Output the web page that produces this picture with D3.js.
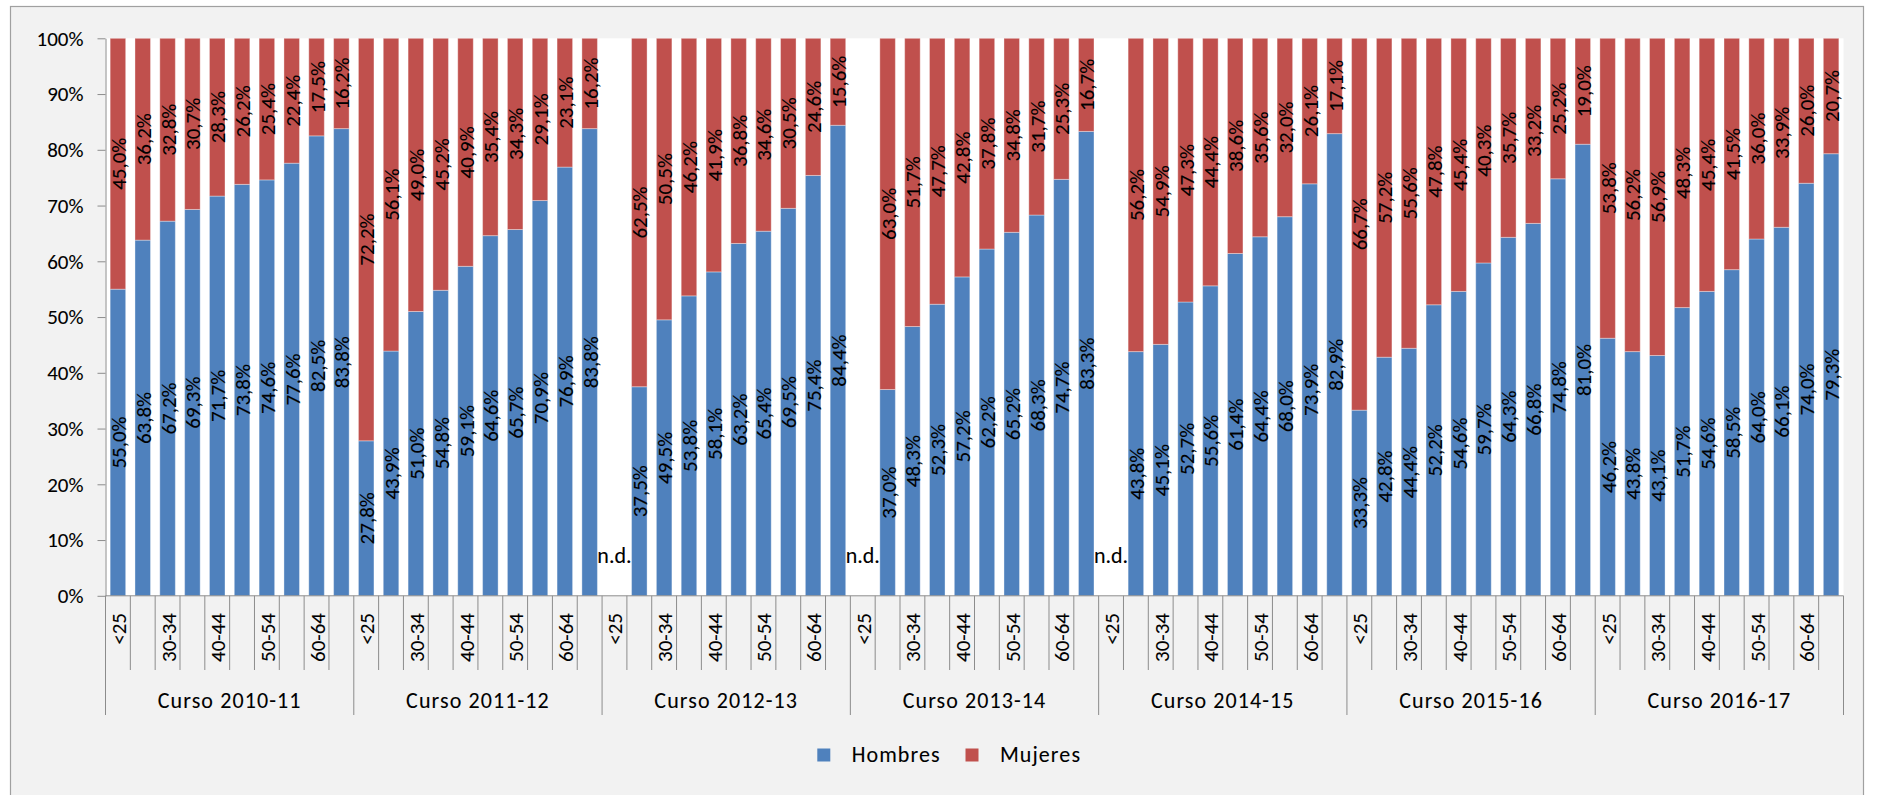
<!DOCTYPE html>
<html>
<head>
<meta charset="utf-8">
<script src="https://cdn.jsdelivr.net/npm/d3@7"></script>
<style>
  html, body { margin: 0; padding: 0; background: #ffffff; }
  svg { display: block; }
  text { font-family: Carlito, Lato, "Open Sans", sans-serif; fill: #000; stroke: #000; stroke-width: 0.08px; }
</style>
</head>
<body>
<div id="chart"></div>
<script>
// ---------------- data ----------------
const courses = ["Curso 2010-11", "Curso 2011-12", "Curso 2012-13", "Curso 2013-14",
                 "Curso 2014-15", "Curso 2015-16", "Curso 2016-17"];
const ageGroups = ["<25", "25-29", "30-34", "35-39", "40-44", "45-49", "50-54", "55-59", "60-64", ">=65"];
const ageTickLabels = ["<25", "", "30-34", "", "40-44", "", "50-54", "", "60-64", ""];
const seriesNames = ["Hombres", "Mujeres"];
const missingLabel = "n.d.";

// percentages per course (null = n.d.)
const hombres = [
  [55.0, 63.8, 67.2, 69.3, 71.7, 73.8, 74.6, 77.6, 82.5, 83.8],
  [27.8, 43.9, 51.0, 54.8, 59.1, 64.6, 65.7, 70.9, 76.9, 83.8],
  [null, 37.5, 49.5, 53.8, 58.1, 63.2, 65.4, 69.5, 75.4, 84.4],
  [null, 37.0, 48.3, 52.3, 57.2, 62.2, 65.2, 68.3, 74.7, 83.3],
  [null, 43.8, 45.1, 52.7, 55.6, 61.4, 64.4, 68.0, 73.9, 82.9],
  [33.3, 42.8, 44.4, 52.2, 54.6, 59.7, 64.3, 66.8, 74.8, 81.0],
  [46.2, 43.8, 43.1, 51.7, 54.6, 58.5, 64.0, 66.1, 74.0, 79.3]
];
const mujeres = [
  [45.0, 36.2, 32.8, 30.7, 28.3, 26.2, 25.4, 22.4, 17.5, 16.2],
  [72.2, 56.1, 49.0, 45.2, 40.9, 35.4, 34.3, 29.1, 23.1, 16.2],
  [null, 62.5, 50.5, 46.2, 41.9, 36.8, 34.6, 30.5, 24.6, 15.6],
  [null, 63.0, 51.7, 47.7, 42.8, 37.8, 34.8, 31.7, 25.3, 16.7],
  [null, 56.2, 54.9, 47.3, 44.4, 38.6, 35.6, 32.0, 26.1, 17.1],
  [66.7, 57.2, 55.6, 47.8, 45.4, 40.3, 35.7, 33.2, 25.2, 19.0],
  [53.8, 56.2, 56.9, 48.3, 45.4, 41.5, 36.0, 33.9, 26.0, 20.7]
];
const yTicks = [0, 0.1, 0.2, 0.3, 0.4, 0.5, 0.6, 0.7, 0.8, 0.9, 1.0];

// ---------------- layout ----------------
const W = 1878, H = 795;
const plot = { left: 105.5, right: 1843.5, top: 38.3, bottom: 595.8 };
const colors = { Hombres: "#4F81BD", Mujeres: "#C0504D" };
const axisColor = "#8c8c8c";
const fontSize = 21;
const wordFontSize = 22;
const wordSpacing = "1.1px";

const rows = [];
courses.forEach((c, ci) => {
  ageGroups.forEach((a, ai) => {
    rows.push({ key: c + "|" + a, course: c, age: a, ai,
                Hombres: hombres[ci][ai], Mujeres: mujeres[ci][ai] });
  });
});

const svg = d3.select("#chart").append("svg").attr("width", W).attr("height", H);

// chart area background + border
svg.append("rect").attr("x", 10.5).attr("y", 6.5).attr("width", 1853).attr("height", 800)
  .attr("fill", "#f2f2f2").attr("stroke", "#a0a0a0").attr("stroke-width", 1.2);
// plot area
svg.append("rect").attr("x", plot.left).attr("y", plot.top)
  .attr("width", plot.right - plot.left).attr("height", plot.bottom - plot.top)
  .attr("fill", "#ffffff");

const x = d3.scaleBand().domain(rows.map(d => d.key)).range([plot.left, plot.right]).padding(0);
const step = x.bandwidth();
const barW = step / 1.6;
const y = d3.scaleLinear().domain([0, 1]).range([plot.bottom, plot.top]);

const stack = d3.stack().keys(seriesNames).value((d, k) => (d[k] == null ? 0 : d[k] / 100));
const stacked = stack(rows);

const fmt = v => d3.format(".1f")(v).replace(".", ",") + "%";

// bars
const g = svg.append("g");
stacked.forEach(layer => {
  g.append("g").selectAll("rect")
    .data(layer.filter(d => d.data[layer.key] != null))
    .join("rect")
    .attr("x", d => x(d.data.key) + (step - barW) / 2)
    .attr("width", barW)
    .attr("y", d => y(d[1]))
    .attr("height", d => y(d[0]) - y(d[1]))
    .attr("fill", colors[layer.key])
    .attr("stroke", "rgba(255,255,255,0.35)")
    .attr("stroke-width", 1);
});

// y axis
const yAxis = d3.axisLeft(y).tickValues(yTicks).tickFormat(d3.format(".0%"))
  .tickSize(8).tickSizeOuter(0).tickPadding(14);
const yg = svg.append("g").attr("transform", `translate(${plot.left},0)`).call(yAxis);
yg.select(".domain").attr("stroke", axisColor);
yg.selectAll(".tick line").attr("stroke", axisColor);
yg.selectAll(".tick text").attr("font-size", fontSize).attr("fill", "#000")
  .style("font-family", "Carlito, Lato, sans-serif");

// x axis line
svg.append("line").attr("x1", plot.left).attr("x2", plot.right)
  .attr("y1", y(0)).attr("y2", y(0)).attr("stroke", axisColor);

// category boundary ticks
const boundaries = d3.range(rows.length + 1);
svg.append("g").selectAll("line").data(boundaries).join("line")
  .attr("x1", i => plot.left + i * step).attr("x2", i => plot.left + i * step)
  .attr("y1", y(0)).attr("y2", i => (i % ageGroups.length === 0 ? 715 : 670))
  .attr("stroke", axisColor);

// category labels (rotated)
svg.append("g").selectAll("text").data(rows.filter(d => ageTickLabels[d.ai] !== "")).join("text")
  .attr("transform", d => `translate(${x(d.key) + step / 2 + 1},613) rotate(-90)`)
  .attr("text-anchor", "end").attr("dominant-baseline", "central")
  .attr("font-size", fontSize)
  .text(d => ageTickLabels[d.ai]);

// group labels
svg.append("g").selectAll("text").data(courses).join("text")
  .attr("x", c => x(c + "|" + ageGroups[0]) + step * ageGroups.length / 2)
  .attr("y", 708)
  .attr("text-anchor", "middle")
  .attr("font-size", wordFontSize)
  .style("letter-spacing", wordSpacing)
  .text(c => c);

// data labels
stacked.forEach(layer => {
  svg.append("g").selectAll("text")
    .data(layer.filter(d => d.data[layer.key] != null))
    .join("text")
    .attr("transform", d => `translate(${x(d.data.key) + step / 2 + 1},${y((d[0] + d[1]) / 2)}) rotate(-90)`)
    .attr("text-anchor", "middle").attr("dominant-baseline", "central")
    .attr("font-size", fontSize)
    .text(d => fmt(d.data[layer.key]));
});

// n.d. labels
svg.append("g").selectAll("text").data(rows.filter(d => d.Hombres == null)).join("text")
  .attr("x", d => x(d.key) + step / 2)
  .attr("y", y(0) - 32.5)
  .attr("text-anchor", "middle")
  .attr("font-size", wordFontSize)
  .text(missingLabel);

// legend
const legend = svg.append("g").attr("transform", "translate(817.3,748.5)");
const legendX = [0, 148.2];
seriesNames.forEach((s, i) => {
  const lg = legend.append("g").attr("transform", `translate(${legendX[i]},0)`);
  lg.append("rect").attr("width", 13).attr("height", 13).attr("fill", colors[s]);
  lg.append("text").attr("x", 34.4).attr("y", 13.2).attr("font-size", wordFontSize)
    .style("letter-spacing", wordSpacing).text(s);
});
</script>
</body>
</html>
